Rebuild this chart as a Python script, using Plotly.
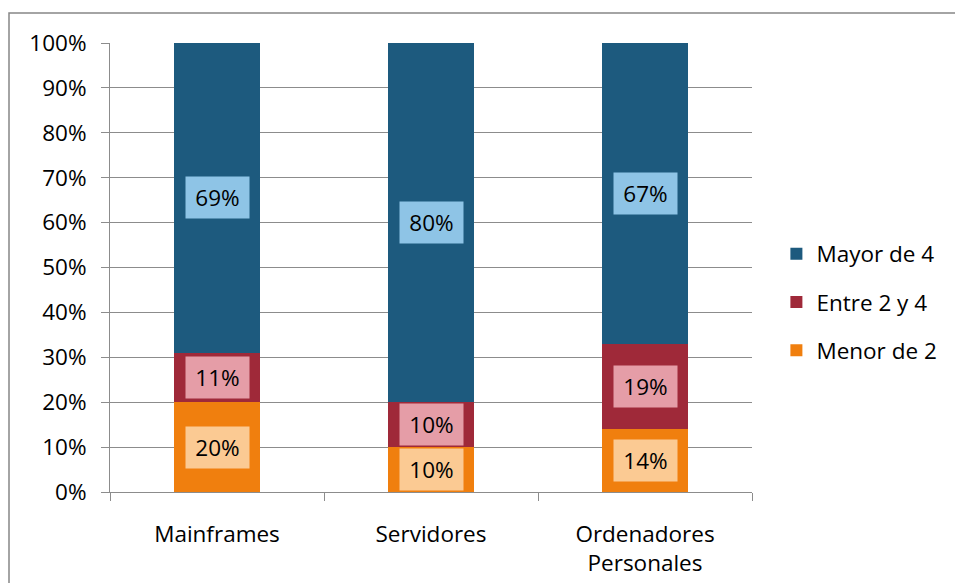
import plotly.graph_objects as go

categories = ["Mainframes", "Servidores", "Ordenadores<br>Personales"]
menor_2 = [20, 10, 14]
entre_2_4 = [11, 10, 19]
mayor_4 = [69, 80, 67]
y_ticks = [0, 10, 20, 30, 40, 50, 60, 70, 80, 90, 100]
y_tick_labels = [f"{t}%" for t in y_ticks]

series = [
    ("Menor de 2", menor_2, "#F07F0E", "#FBCA93"),
    ("Entre 2 y 4", entre_2_4, "#9F2939", "#E59DA7"),
    ("Mayor de 4", mayor_4, "#1D5A7E", "#8EC4E6"),
]

FONT = "Open Sans"
FS = 22.5
fig = go.Figure()
annotations = []
base = [0] * len(categories)
for i, (name, vals, col, lcol) in enumerate(series):
    fig.add_trace(go.Bar(
        x=categories, y=vals, name=name, marker=dict(color=col, line=dict(width=0)),
        legendgroup=f"g{i}", legendrank=10 - i, hoverinfo="skip",
    ))
    for j, (c, v) in enumerate(zip(categories, vals)):
        annotations.append(dict(
            x=c, y=base[j] + v / 2, xref="x", yref="y", text=f"{v}%",
            showarrow=False, bgcolor=lcol, width=63, height=41, borderpad=0,
            font=dict(family=FONT, size=FS, color="#000000"),
        ))
        base[j] += v

fig.update_layout(
    barmode="stack", bargap=0.6,
    width=955, height=583,
    margin=dict(l=110, r=203, t=43, b=91, autoexpand=False),
    paper_bgcolor="white", plot_bgcolor="white",
    font=dict(family=FONT, size=FS, color="#000000"),
    annotations=annotations,
    legend=dict(
        x=1.038, xanchor="left", y=0.423, yanchor="middle",
        traceorder="grouped", tracegroupgap=16,
        font=dict(family=FONT, size=FS, color="#000000"),
        bgcolor="rgba(0,0,0,0)",
    ),
    shapes=[dict(
        type="rect", xref="paper", yref="paper",
        x0=(9 - 110) / 642, x1=(970 - 110) / 642,
        y0=(492 - 600) / 449, y1=(492 - 13) / 449,
        line=dict(color="#868686", width=1.5), fillcolor="rgba(0,0,0,0)", layer="below",
    )],
)
fig.update_yaxes(
    range=[0, 100], tickvals=y_ticks, ticktext=y_tick_labels,
    showgrid=True, gridcolor="#8C8C8C", gridwidth=1,
    showline=True, linecolor="#8C8C8C", linewidth=1,
    ticks="outside", ticklen=8, tickcolor="#8C8C8C",
    ticklabelstandoff=10, zeroline=False, fixedrange=True, automargin=False,
)
fig.update_xaxes(
    showline=True, linecolor="#8C8C8C", linewidth=1,
    ticks="outside", ticklen=8, tickcolor="#8C8C8C", tickson="boundaries",
    ticklabelstandoff=22, showgrid=False, fixedrange=True, automargin=False,
)
fig.write_html("out.html", config={"displayModeBar": False})

with open("out.html", "r", encoding="utf-8") as f:
    html = f.read()
html = html.replace("<head>", "<head><style>html,body{margin:0;padding:0;}</style>", 1)
with open("out.html", "w", encoding="utf-8") as f:
    f.write(html)
